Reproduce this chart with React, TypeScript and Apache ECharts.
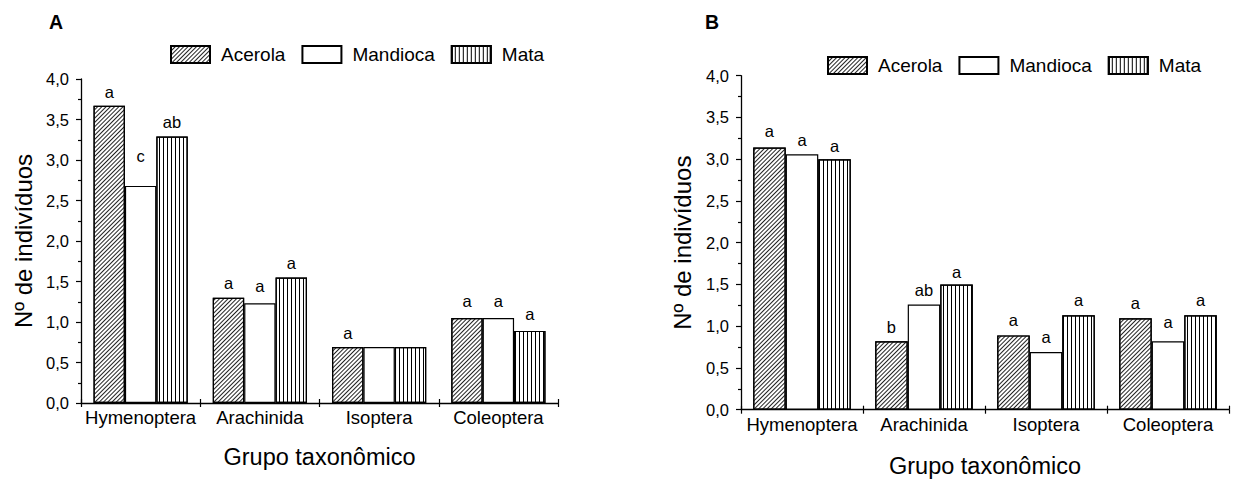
import React, { useEffect, useRef } from "react";
import * as echarts from "echarts";

// ---- Data ----
const categories = ["Hymenoptera", "Arachinida", "Isoptera", "Coleoptera"];
const seriesNames = ["Acerola", "Mandioca", "Mata"];

// Panel A (mean number of individuals)
const acerolaA = [3.67, 1.3, 0.69, 1.05];
const mandiocaA = [2.68, 1.23, 0.69, 1.05];
const mataA = [3.29, 1.55, 0.69, 0.89];
// Panel A significance letters and the height (data units) where each letter sits
const lettersAcerolaA = ["a", "a", "a", "a"];
const lettersMandiocaA = ["c", "a", "", "a"];
const lettersMataA = ["ab", "a", "", "a"];
const letterTopAcerolaA = [3.73, 1.38, 0.76, 1.15];
const letterTopMandiocaA: (number | null)[] = [2.94, 1.34, null, 1.15];
const letterTopMataA: (number | null)[] = [3.37, 1.62, null, 1.0];

// Panel B
const acerolaB = [3.14, 0.82, 0.89, 1.095];
const mandiocaB = [3.06, 1.26, 0.69, 0.82];
const mataB = [3.0, 1.5, 1.13, 1.13];
const lettersAcerolaB = ["a", "b", "a", "a"];
const lettersMandiocaB = ["a", "ab", "a", "a"];
const lettersMataB = ["a", "a", "a", "a"];
const letterTopAcerolaB = [3.24, 0.89, 0.97, 1.18];
const letterTopMandiocaB = [3.13, 1.33, 0.77, 0.95];
const letterTopMataB = [3.06, 1.55, 1.21, 1.21];

// Axis
const yMin = 0;
const yMax = 4;
const yInterval = 0.5;

const FONT = "Liberation Sans, Arial, Helvetica, sans-serif";

const styles = [
  {
    color: "#fff",
    borderColor: "#000",
    borderWidth: 1.2,
    decal: {
      symbol: "rect",
      symbolSize: 1,
      color: "#222",
      dashArrayX: [1, 0],
      dashArrayY: [1, 2],
      rotation: -Math.PI / 4,
    },
  },
  { color: "#fff", borderColor: "#000", borderWidth: 1.2 },
  {
    color: "#fff",
    borderColor: "#000",
    borderWidth: 1.2,
    decal: {
      symbol: "rect",
      symbolSize: 1,
      color: "#000",
      dashArrayX: [1, 0],
      dashArrayY: [1, 3],
      rotation: Math.PI / 2,
    },
  },
];

function buildPanel(
  idx: number,
  values: number[][],
  letters: string[][],
  tops: (number | null)[][]
) {
  const stacks = ["s0", "s1", "s2"].map((s) => s + "_" + idx);
  const main = values.map((vals, i) => ({
    name: seriesNames[i],
    type: "bar",
    xAxisIndex: idx,
    yAxisIndex: idx,
    stack: stacks[i],
    data: vals,
    itemStyle: styles[i],
    barGap: "0%",
    barCategoryGap: idx === 0 ? "21%" : "20%",
    silent: true,
  }));
  const lab = values.map((vals, i) => ({
    name: seriesNames[i] + " letras " + idx,
    type: "bar",
    xAxisIndex: idx,
    yAxisIndex: idx,
    stack: stacks[i],
    data: vals.map((v, j) => (tops[i][j] == null ? "-" : (tops[i][j] as number) - v)),
    itemStyle: { color: "rgba(0,0,0,0)", borderWidth: 0 },
    silent: true,
    label: {
      show: true,
      position: "top",
      distance: 0,
      color: "#000",
      fontFamily: FONT,
      fontSize: 16.5,
      formatter: (p: any) => letters[i][p.dataIndex] || "",
    },
  }));
  return [...main, ...lab];
}

const grids = [
  { left: 81, top: 79, width: 477, height: 324 },
  { left: 741, top: 75.7, width: 488, height: 334 },
];

export default function App() {
  const ref = useRef<HTMLDivElement>(null);
  useEffect(() => {
    if (!ref.current) return;
    const chart = echarts.init(ref.current, undefined, { renderer: "svg" });
    const yAxisFor = (i: number, gap: number) => ({
      type: "value",
      gridIndex: i,
      min: yMin,
      max: yMax,
      interval: yInterval,
      name: "Nº de indivíduos",
      nameLocation: "middle",
      nameGap: gap,
      nameTextStyle: { fontFamily: FONT, fontSize: 24, color: "#000" },
      axisLine: { show: true, lineStyle: { color: "#000", width: 1.3 } },
      axisTick: { show: true, inside: false, length: 5, lineStyle: { color: "#000", width: 1.2 } },
      minorTick: { show: true, splitNumber: 2, length: 3, lineStyle: { color: "#000", width: 1.2 } },
      splitLine: { show: false },
      axisLabel: {
        margin: 12,
        color: "#000",
        fontFamily: FONT,
        fontSize: 16.5,
        formatter: (v: number) => v.toFixed(1).replace(".", ","),
      },
    });
    const xAxisFor = (i: number, gap: number) => ({
      type: "category",
      gridIndex: i,
      data: categories,
      position: "bottom",
      name: "Grupo taxonômico",
      nameLocation: "middle",
      nameGap: gap,
      nameTextStyle: { fontFamily: FONT, fontSize: 23.5, color: "#000" },
      axisLine: { show: true, lineStyle: { color: "#000", width: 1.3 } },
      axisTick: { show: true, inside: false, length: 4, lineStyle: { color: "#000", width: 1.2 } },
      axisLabel: { margin: 5, color: "#000", fontFamily: FONT, fontSize: 18.5, interval: 0 },
      splitLine: { show: false },
    });
    const xInner = (i: number) => ({
      type: "category",
      gridIndex: i,
      data: categories,
      position: "bottom",
      offset: 0,
      axisLine: { show: false },
      axisTick: { show: true, inside: true, length: 4, lineStyle: { color: "#000", width: 1.2 } },
      axisLabel: { show: false },
      splitLine: { show: false },
    });
    const legendFor = (left: number, top: number) => ({
      left,
      top,
      orient: "horizontal",
      data: seriesNames,
      icon: "rect",
      itemWidth: 39,
      itemHeight: 17,
      itemGap: 16,
      padding: 0,
      selectedMode: false,
      textStyle: { fontFamily: FONT, fontSize: 19, color: "#000", padding: [0, 0, 0, 6] },
    });
    chart.setOption({
      animation: false,
      backgroundColor: "#fff",
      title: [
        { text: "A", left: 49, top: 12, padding: 0, textStyle: { fontFamily: FONT, fontWeight: "bold", fontSize: 19.5, color: "#000" } },
        { text: "B", left: 705, top: 12, padding: 0, textStyle: { fontFamily: FONT, fontWeight: "bold", fontSize: 19.5, color: "#000" } },
      ],
      legend: [legendFor(170, 45), legendFor(827, 56)],
      grid: grids.map((g) => ({ ...g, containLabel: false, outerBoundsMode: "none" })),
      xAxis: [xAxisFor(0, 42), xAxisFor(1, 44), xInner(0), xInner(1)],
      yAxis: [yAxisFor(0, 46), yAxisFor(1, 47)],
      series: [
        ...buildPanel(
          0,
          [acerolaA, mandiocaA, mataA],
          [lettersAcerolaA, lettersMandiocaA, lettersMataA],
          [letterTopAcerolaA, letterTopMandiocaA, letterTopMataA]
        ),
        ...buildPanel(
          1,
          [acerolaB, mandiocaB, mataB],
          [lettersAcerolaB, lettersMandiocaB, lettersMataB],
          [letterTopAcerolaB, letterTopMandiocaB, letterTopMataB]
        ),
      ],
    });
    return () => chart.dispose();
  }, []);
  return (
    <div
      ref={ref}
      style={{ position: "fixed", left: 0, top: 0, width: 1234, height: 479, background: "#fff" }}
    />
  );
}
